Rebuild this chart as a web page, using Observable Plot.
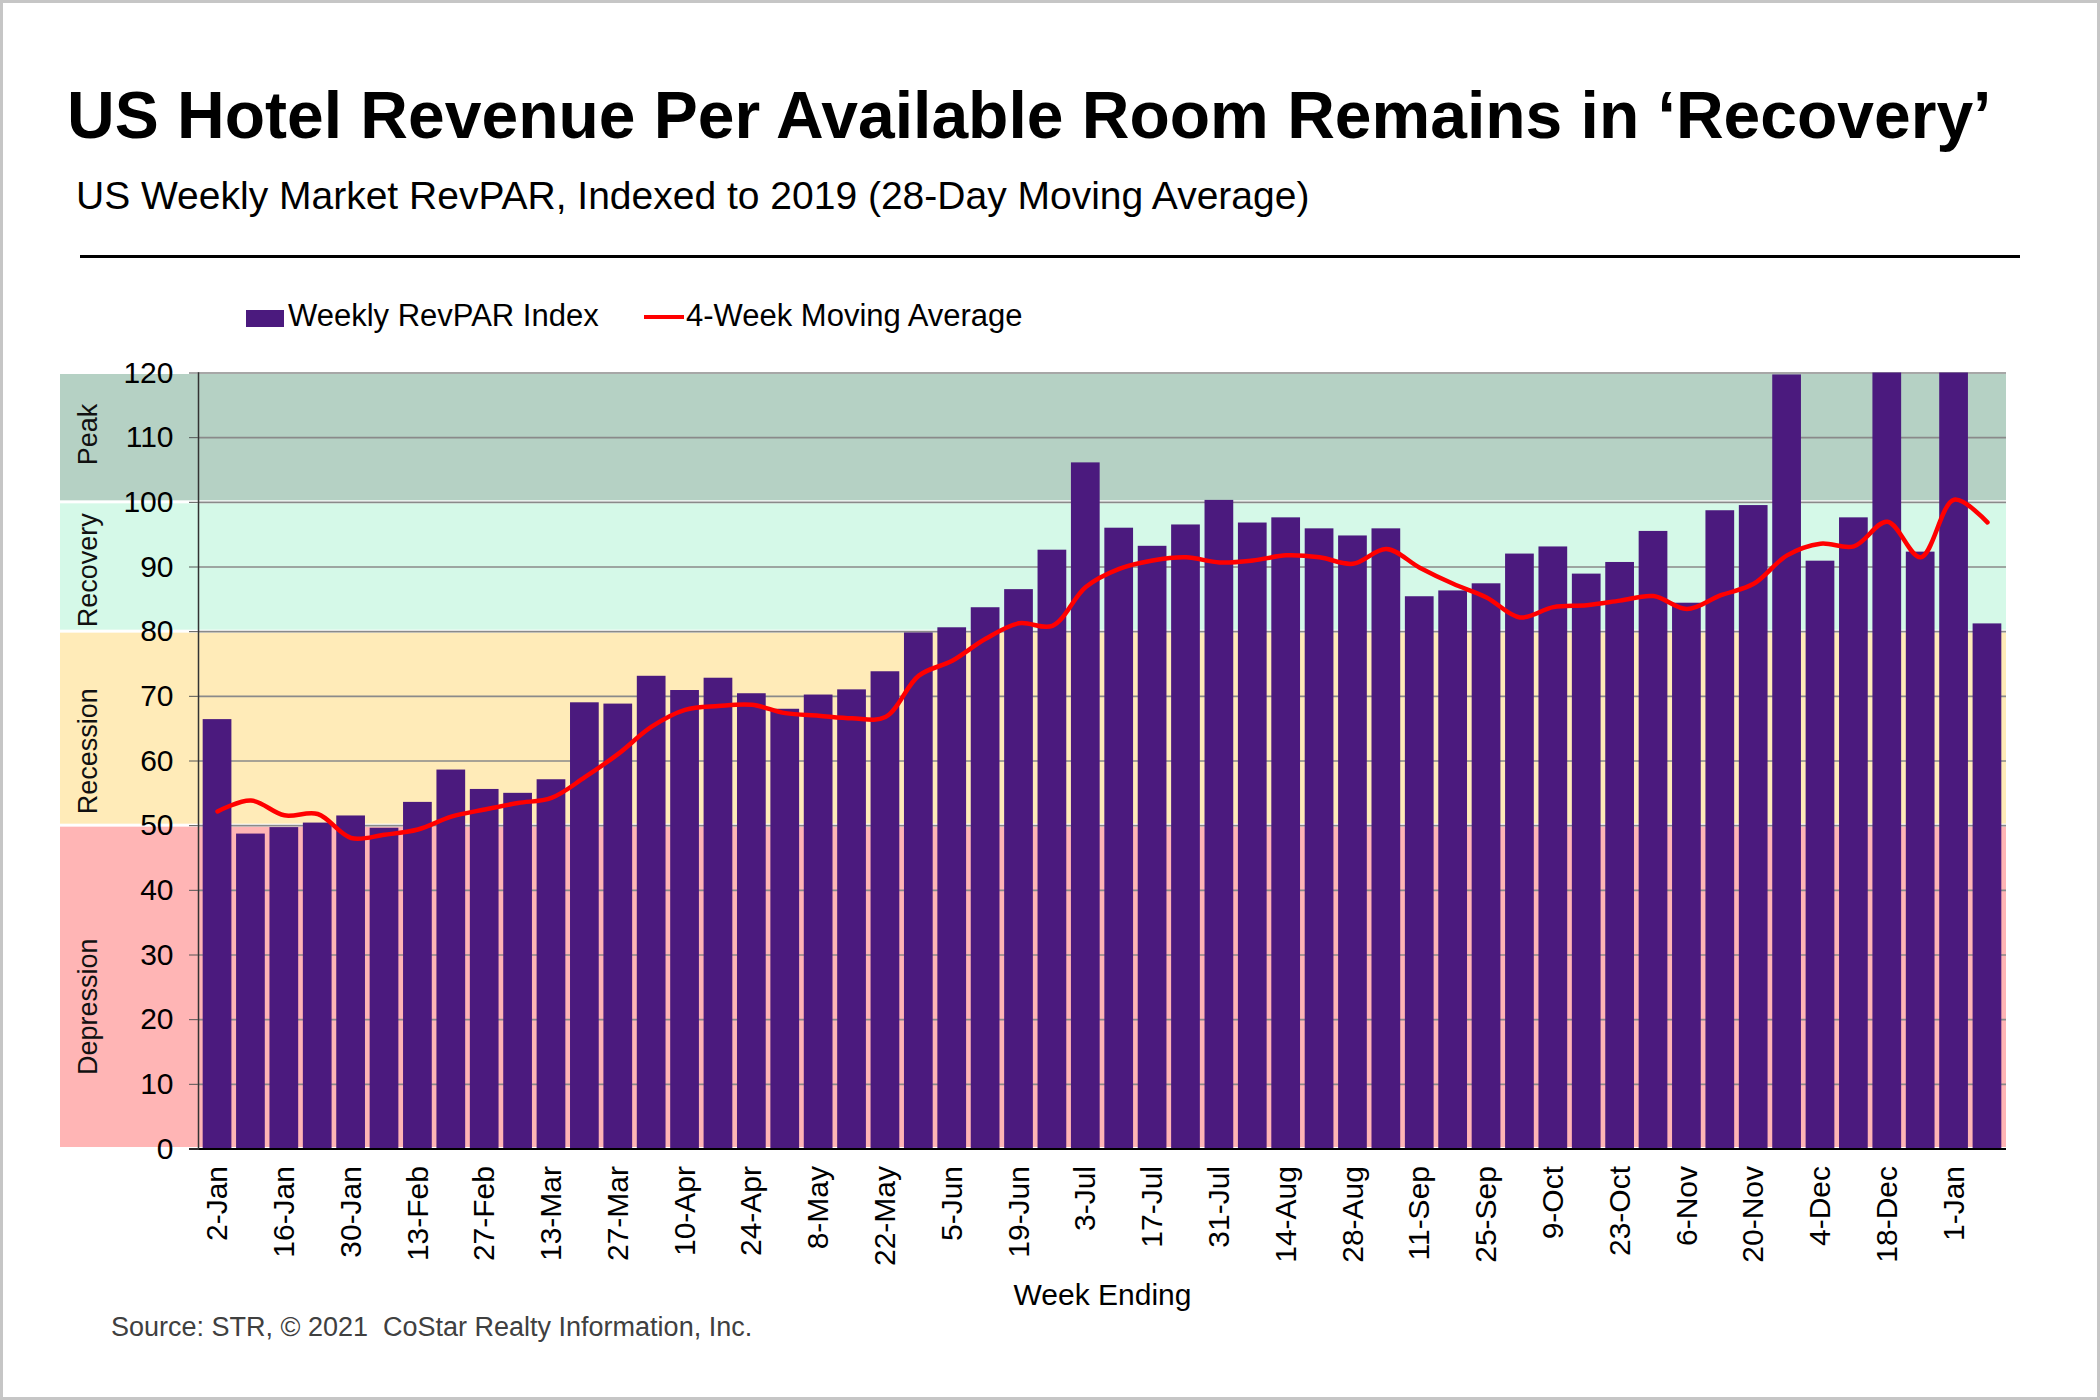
<!DOCTYPE html>
<html>
<head>
<meta charset="utf-8">
<script src="https://cdn.jsdelivr.net/npm/d3@7"></script>
<script src="https://cdn.jsdelivr.net/npm/@observablehq/plot@0.6"></script>
<style>
  html, body { margin: 0; padding: 0; background: #fff; }
  #page { position: relative; width: 2100px; height: 1400px; background: #fff; overflow: hidden;
          font-family: "Liberation Sans", Arial, Helvetica, sans-serif; color: #000; }
  #border { position: absolute; left: 0; top: 0; width: 2100px; height: 1400px; box-sizing: border-box;
            border: 3px solid #c6c6c6; pointer-events: none; z-index: 10; }
  .abs { position: absolute; white-space: pre; line-height: 1; }
  #title { left: 67px; top: 82px; font-size: 66px; font-weight: bold; }
  #subtitle { left: 76px; top: 176px; font-size: 39px; }
  #rule { left: 80px; top: 255px; width: 1940px; height: 3px; background: #000; }
  #legend { left: 246px; top: 300px; font-size: 31px; }
  .sw { position: absolute; }
  #source { left: 111px; top: 1314px; font-size: 27px; color: #404040; }
  #chart { position: absolute; left: 0; top: 340px; }
</style>
</head>
<body>
<div id="page">
  <div id="title" class="abs">US Hotel Revenue Per Available Room Remains in ‘Recovery’</div>
  <div id="subtitle" class="abs">US Weekly Market RevPAR, Indexed to 2019 (28-Day Moving Average)</div>
  <div id="rule" class="abs"></div>
  <div id="legend" class="abs"></div>
  <div id="chart"></div>
  <div id="source" class="abs">Source: STR, © 2021  CoStar Realty Information, Inc.</div>
  <div id="border"></div>
</div>
<script>
// ---- data ----
const weeks = ["2-Jan","9-Jan","16-Jan","23-Jan","30-Jan","6-Feb","13-Feb","20-Feb","27-Feb","6-Mar",
  "13-Mar","20-Mar","27-Mar","3-Apr","10-Apr","17-Apr","24-Apr","1-May","8-May","15-May",
  "22-May","29-May","5-Jun","12-Jun","19-Jun","26-Jun","3-Jul","10-Jul","17-Jul","24-Jul",
  "31-Jul","7-Aug","14-Aug","21-Aug","28-Aug","4-Sep","11-Sep","18-Sep","25-Sep","2-Oct",
  "9-Oct","16-Oct","23-Oct","30-Oct","6-Nov","13-Nov","20-Nov","27-Nov","4-Dec","11-Dec",
  "18-Dec","25-Dec","1-Jan","8-Jan"];
const weeklyIndex = [66.4,48.7,49.7,50.4,51.5,49.6,53.6,58.6,55.6,55.0,
  57.1,69.0,68.8,73.1,70.9,72.8,70.4,68.0,70.2,71.0,
  73.8,79.8,80.6,83.7,86.5,92.6,106.1,96.0,93.2,96.5,
  100.3,96.8,97.6,95.9,94.8,95.9,85.4,86.3,87.4,92.0,
  93.1,88.9,90.7,95.5,84.4,98.7,99.5,119.7,90.9,97.6,
  126,92.3,128,81.2];
const movingAvg = [52.2,53.9,51.6,51.8,48.1,48.6,49.4,51.4,52.5,53.5,
  54.3,57.5,61.1,65.3,67.9,68.5,68.7,67.4,67.0,66.6,
  66.8,73.2,75.5,78.9,81.3,80.9,86.9,89.7,91.0,91.5,
  90.7,91.0,91.8,91.5,90.5,92.8,89.9,87.4,85.3,82.2,
  83.8,84.1,84.8,85.5,83.5,85.6,87.4,91.8,93.6,93.2,
  97.0,91.5,100.4,96.9];
const zoneNames = ["Depression","Recession","Recovery","Peak"];
const zoneLow = [0, 50, 80, 100];
const zoneHigh = [50, 80, 100, 120];
const zoneLabelAt = [22, 61.5, 89.5, 110.5];
const zoneColors = ["#ffb5b5","#ffebb8","#d5f9e8","#b5d1c4"];
const yTicks = [0,10,20,30,40,50,60,70,80,90,100,110,120];
const xTickLabels = weeks.filter((d, i) => i % 2 === 0);
const seriesNames = ["Weekly RevPAR Index", "4-Week Moving Average"];
const seriesColors = ["#4b1a7e", "#ff0000"];

// ---- tables ----
const rows = weeks.map((w, i) => ({week: w, index: weeklyIndex[i], ma: movingAvg[i]}));
const zones = zoneNames.map((n, i) => ({name: n, y1: zoneLow[i], y2: zoneHigh[i], at: zoneLabelAt[i], color: zoneColors[i]}));

// ---- legend ----
const legend = document.getElementById("legend");
legend.innerHTML =
  `<div class="sw" style="left:0;top:10px;width:38px;height:17px;background:${seriesColors[0]}"></div>` +
  `<div class="sw" style="left:42px;top:0;">${seriesNames[0]}</div>` +
  `<div class="sw" style="left:398px;top:15px;width:40px;height:4px;background:${seriesColors[1]}"></div>` +
  `<div class="sw" style="left:440px;top:0;">${seriesNames[1]}</div>`;

// ---- chart ----
const chart = Plot.plot({
  width: 2100,
  height: 980,
  marginTop: 32.5,
  marginBottom: 171.5,
  marginLeft: 198,
  marginRight: 94,
  style: {background: "transparent", fontFamily: "'Liberation Sans', Arial, sans-serif", fontSize: "30px", color: "#000"},
  x: {type: "band", domain: weeks, padding: 0.14, round: false},
  y: {domain: [0, 120]},
  marks: [
    Plot.rectY(zones, {y1: "y1", y2: "y2", fill: "color", insetLeft: -138, insetTop: 1.5, insetBottom: 1.5}),
    Plot.text(zones, {y: "at", text: "name", frameAnchor: "left", textAnchor: "middle", dx: -110, rotate: -90, fontSize: 27, fill: "#111"}),
    Plot.ruleY(yTicks.filter(d => d > 0), {stroke: "#8a8a8a", strokeWidth: 1.6}),
    Plot.barY(rows, {x: "week", y: "index", fill: seriesColors[0], clip: true}),
    Plot.line(rows, {x: "week", y: "ma", stroke: seriesColors[1], strokeWidth: 4.5, curve: "catmull-rom"}),
    Plot.ruleY([0], {stroke: "#000", strokeWidth: 2, insetLeft: -9}),
    Plot.frame({anchor: "left", stroke: "#333", strokeWidth: 1.5}),
    Plot.axisY({ticks: yTicks, tickSize: 9, tickPadding: 16, fontSize: 30, label: null, stroke: "#555"}),
    Plot.axisX({ticks: xTickLabels, tickSize: 0, tickRotate: -90, tickPadding: 17, fontSize: 30, label: null}),
    Plot.text(["Week Ending"], {frameAnchor: "bottom", dy: 156, fontSize: 30, fill: "#000"})
  ]
});
document.getElementById("chart").appendChild(chart);
</script>
</body>
</html>
